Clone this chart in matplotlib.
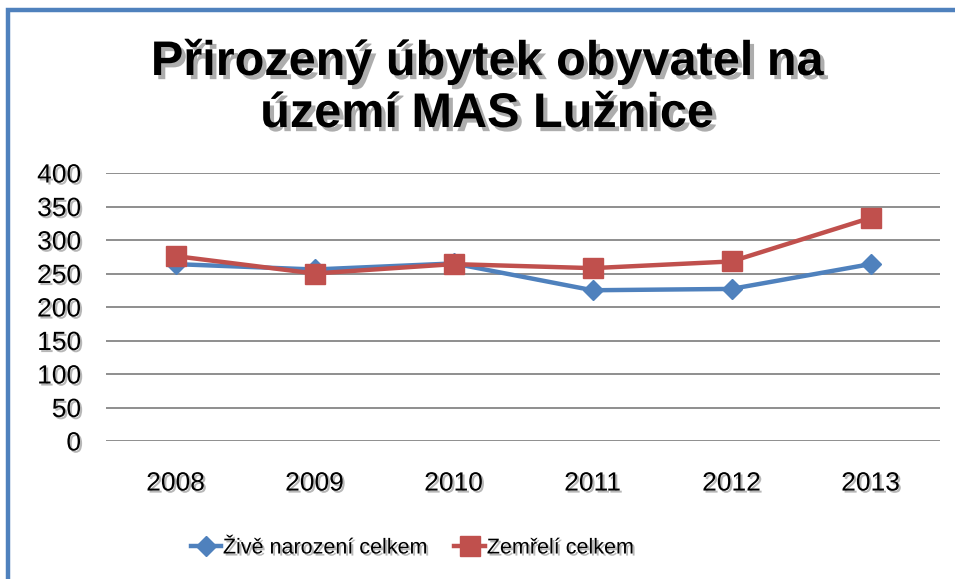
import matplotlib.pyplot as plt
import matplotlib.patheffects as pe
from matplotlib.patches import Rectangle

years = ['2008', '2009', '2010', '2011', '2012', '2013']
zive_narozeni = [264, 256, 265, 225, 227, 264]
zemreli = [276, 250, 264, 258, 268, 333]
yticks = [0, 50, 100, 150, 200, 250, 300, 350, 400]

plt.rcParams['font.family'] = ['Liberation Sans', 'DejaVu Sans']

W, H = 955, 579
fig = plt.figure(figsize=(W / 100, H / 100), dpi=100)
fig.patch.set_facecolor('white')

# blue frame running off the right and bottom edges
fig.patches.append(Rectangle((8 / W, -0.05), 1.1, 1 - 10 / H + 0.05,
                             transform=fig.transFigure, fill=False,
                             edgecolor='#4F81BD', linewidth=3.2))

shadow = [pe.SimplePatchShadow(offset=(1.5, -1.5), shadow_rgbFace='#888888', alpha=0.6), pe.Normal()]

ax = fig.add_axes([106 / W, 1 - 441 / H, 834 / W, 268 / H])
x = list(range(len(years)))
ax.plot(x, zive_narozeni, color='#4F81BD', linewidth=3.2, marker='D', markersize=10,
        label='Živě narození celkem', zorder=3)
ax.plot(x, zemreli, color='#C0504D', linewidth=3.2, marker='s', markersize=14,
        label='Zemřelí celkem', zorder=4)

ax.set_xlim(-0.5, len(years) - 0.5)
ax.set_ylim(0, 400)
ax.set_yticks(yticks)
ax.set_xticks(x)
ax.set_xticklabels(years)
ax.yaxis.grid(True, color='#868686', linewidth=1.3)
ax.set_axisbelow(True)
for s in ax.spines.values():
    s.set_visible(False)
ax.tick_params(length=0, labelsize=19)
ax.tick_params(axis='y', pad=18)
ax.tick_params(axis='x', pad=22)
for lab in ax.get_xticklabels() + ax.get_yticklabels():
    lab.set_path_effects(shadow)

fig.text(487 / W, 1 - 88 / H, 'Přirozený úbytek obyvatel na\núzemí MAS Lužnice',
         ha='center', va='center', fontsize=35, fontweight='bold', linespacing=1.2,
         path_effects=[pe.SimplePatchShadow(offset=(3, -3), shadow_rgbFace='#777777', alpha=0.6), pe.Normal()])

leg = fig.legend(loc='center', bbox_to_anchor=(412 / W, 1 - 548 / H), ncol=2, frameon=False,
                 fontsize=15.5, handlelength=1.4, handletextpad=0.1, columnspacing=1.3)
for t in leg.get_texts():
    t.set_path_effects(shadow)

fig.savefig('out.png', dpi=100)
